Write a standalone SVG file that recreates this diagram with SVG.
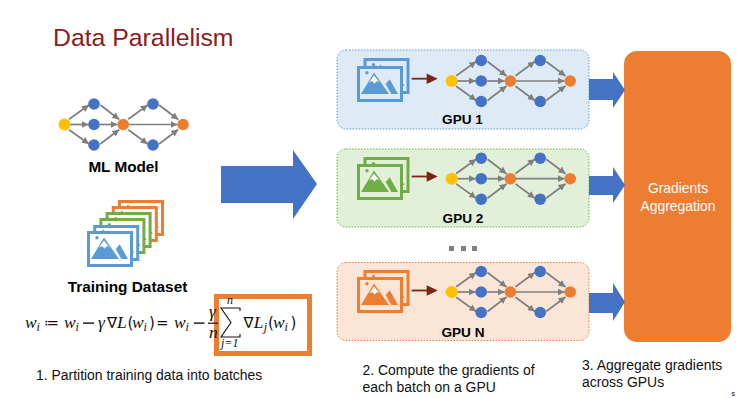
<svg xmlns="http://www.w3.org/2000/svg" width="737" height="398" viewBox="0 0 737 398">
<style>
  text { font-family: "Liberation Sans", Arial, sans-serif; fill: #000; }
  .b { font-weight: 700; text-anchor: middle; }
  .cap { font-size: 13.95px; fill: #111; }
  .white { font-size: 13.9px; text-anchor: middle; fill: #fff; }
  .m { font-family: "Liberation Serif", "DejaVu Serif", serif; font-style: italic; font-size: 17.5px; fill: #111; }
  .sub { font-size: 12px; }
  .mr { font-family: "DejaVu Sans", "Liberation Sans", sans-serif; font-style: normal; font-size: 15px; }
  .ms { font-family: "Liberation Serif", "DejaVu Serif", serif; font-style: italic; font-size: 12px; fill: #111; }
  .edge { stroke: #7f7f7f; stroke-width: 1.7; fill: none; marker-end: url(#tip); }
  .big { fill: #4472c4; }
  .blue { fill: #4472c4; }
  .org { fill: #ed7d31; }
  .yel { fill: #ffc000; }
  .panel { stroke-width: 1; stroke-dasharray: 1.5 1.5; }
</style>
<defs>
  <marker id="tip" markerUnits="userSpaceOnUse" markerWidth="7" markerHeight="7" refX="7" refY="3.5" orient="auto">
    <path d="M0 0L7 3.5L0 7z" fill="#7f7f7f"/>
  </marker>
  <!-- layered network, origin at the input node -->
  <g id="net">
    <g>
      <path class="edge" d="M4.5-5.2L24.5-19.5"/>
      <path class="edge" d="M5 0L24 0"/>
      <path class="edge" d="M4.5 5.2L24.5 19.5"/>
      <path class="edge" d="M35.8-19.5L54.8-5"/>
      <path class="edge" d="M35.5 0L53 0"/>
      <path class="edge" d="M35.8 19.5L54.8 5"/>
      <path class="edge" d="M63.8-5.2L83.2-19.5"/>
      <path class="edge" d="M63.8 5.2L83.2 19.5"/>
      <path class="edge" d="M94.5-19.5L113.8-5"/>
      <path class="edge" d="M94.5 19.5L113.8 5"/>
      <path class="edge" d="M63 0L113 0"/>
    </g>
    <circle class="yel" cx="0" cy="0" r="6"/>
    <circle class="blue" cx="29.5" cy="-20.5" r="5.8"/>
    <circle class="blue" cx="29.5" cy="0" r="5.8"/>
    <circle class="blue" cx="29.5" cy="20.5" r="5.8"/>
    <circle class="org" cx="58.7" cy="0" r="5.8"/>
    <circle class="blue" cx="88.5" cy="-20.5" r="5.8"/>
    <circle class="blue" cx="88.5" cy="20.5" r="5.8"/>
    <circle class="org" cx="118.5" cy="0" r="5.8"/>
  </g>
  <!-- picture frame: colour comes from currentColor, backing from the fill attribute -->
  <g id="pic">
    <rect x="1.5" y="1.5" width="43" height="33" stroke="currentColor" stroke-width="3"/>
    <circle cx="10" cy="6.8" r="1.7" fill="currentColor"/>
    <path d="M17 6.5L32 28H4z" fill="currentColor"/>
    <path d="M32.7 13.3L41 28H34.3L28.7 18z" fill="currentColor"/>
    <path d="M17 9.5L12 16.5L15 15L17.5 17.5L20 15L22.5 16.5z" fill="#fff"/>
  </g>
  <g id="arrowRed">
    <path d="M0 0H16" stroke="#7b2318" stroke-width="1.8" fill="none"/>
    <path d="M15 -5.3L26 0L15 5.3z" fill="#7b2318"/>
  </g>
</defs>

<rect width="737" height="398" fill="#fff"/>

<text id="title" x="53" y="46" font-size="24.8" style="fill:#8a1c1c">Data Parallelism</text>

<g id="ml-model">
  <use href="#net" x="64.5" y="124.5"/>
  <text class="b" x="123.5" y="172" font-size="15.3">ML Model</text>
</g>

<g id="training-dataset">
  <use href="#pic" x="118" y="200" fill="#fff" color="#ed7d31"/>
  <use href="#pic" x="111.8" y="206" fill="#fff" color="#ed7d31"/>
  <use href="#pic" x="105.6" y="212" fill="#fff" color="#70ad47"/>
  <use href="#pic" x="99.4" y="218" fill="#fff" color="#70ad47"/>
  <use href="#pic" x="93.2" y="225" fill="#fff" color="#5b9bd5"/>
  <use href="#pic" x="87" y="231" fill="#fff" color="#5b9bd5"/>
  <text class="b" x="127.5" y="292" font-size="15.4">Training Dataset</text>
</g>

<g id="formula">
  <rect x="216.5" y="296.5" width="93" height="57" fill="none" stroke="#ed7d31" stroke-width="5"/>
  <text class="m" y="328"><tspan x="25">w</tspan><tspan class="sub" x="36.5" dy="3">i</tspan><tspan class="mr" x="44" dy="-3">≔</tspan><tspan x="64">w</tspan><tspan class="sub" x="75.5" dy="3">i</tspan><tspan x="98" dy="-3">γ</tspan><tspan class="mr" x="107">∇</tspan><tspan x="117">L</tspan><tspan class="mr" x="127.5">(</tspan><tspan x="132">w</tspan><tspan class="sub" x="143.5" dy="3">i</tspan><tspan class="mr" x="149" dy="-3">)</tspan><tspan class="mr" x="156">=</tspan><tspan x="174">w</tspan><tspan class="sub" x="185.5" dy="3">i</tspan></text>
  <rect x="83" y="322.4" width="11" height="1.4" fill="#111"/>
  <rect x="194" y="322.4" width="10.5" height="1.4" fill="#111"/>
  <text class="m" x="209" y="317">γ</text>
  <rect x="208" y="322.6" width="10" height="1.2" fill="#111"/>
  <text class="m" x="209" y="338">n</text>
  <path d="M240 311V308H221L231 322.5L221 337H240V334" fill="none" stroke="#111" stroke-width="1.1"/>
  <text class="ms" x="227" y="304">n</text>
  <text class="ms" x="221" y="347">j=1</text>
  <text class="m" y="328"><tspan class="mr" x="243.5">∇</tspan><tspan x="253.8">L</tspan><tspan class="sub" x="263.8" dy="3">j</tspan><tspan class="mr" x="268" dy="-3">(</tspan><tspan x="273">w</tspan><tspan class="sub" x="284.5" dy="3">i</tspan><tspan class="mr" x="290.5" dy="-3">)</tspan></text>
</g>

<text id="step-1" class="cap" x="36" y="380">1. Partition training data into batches</text>

<g id="gpu-1">
  <rect class="panel" x="337" y="50" width="252" height="79" rx="9" fill="#deebf7" stroke="#5b9bd5"/>
  <use href="#pic" x="363.5" y="58" fill="#deebf7" color="#5b9bd5"/>
  <use href="#pic" x="357" y="66" fill="#deebf7" color="#5b9bd5"/>
  <use href="#arrowRed" x="411.7" y="78.7"/>
  <use href="#net" x="451.7" y="81"/>
  <text class="b" x="462.5" y="124" font-size="13.6">GPU 1</text>
</g>

<g id="gpu-2">
  <rect class="panel" x="337" y="149" width="252" height="78" rx="9" fill="#e2f0d9" stroke="#70ad47"/>
  <use href="#pic" x="363.5" y="157" fill="#e2f0d9" color="#70ad47"/>
  <use href="#pic" x="357" y="164" fill="#e2f0d9" color="#70ad47"/>
  <use href="#arrowRed" x="411.7" y="176.5"/>
  <use href="#net" x="451.7" y="178.7"/>
  <text class="b" x="463" y="222.7" font-size="13.6">GPU 2</text>
</g>

<g id="ellipsis" fill="#808080">
  <rect x="449" y="246" width="5" height="5"/>
  <rect x="461" y="246" width="5" height="5"/>
  <rect x="472" y="246" width="5" height="5"/>
</g>

<g id="gpu-n">
  <rect class="panel" x="337" y="262.5" width="252" height="78" rx="9" fill="#fbe5d6" stroke="#ed7d31"/>
  <use href="#pic" x="363.5" y="270" fill="#fbe5d6" color="#ed7d31"/>
  <use href="#pic" x="357" y="277" fill="#fbe5d6" color="#ed7d31"/>
  <use href="#arrowRed" x="411.7" y="290.5"/>
  <use href="#net" x="451.7" y="292"/>
  <text class="b" x="463" y="336.7" font-size="13.6">GPU N</text>
</g>

<g id="aggregation">
  <rect x="624" y="51" width="107" height="291" rx="13" fill="#ed7d31"/>
  <text class="white" x="678" y="193">Gradients</text>
  <text class="white" x="678" y="210.7">Aggregation</text>
</g>

<g id="connectors">
  <path class="big" d="M221 166H293V150L317 184L293 219V203H221z"/>
  <path class="big" d="M589 79H613V72L625 90L613 108V100H589z"/>
  <path class="big" d="M589 176H613V167L625 185L613 203V195H589z"/>
  <path class="big" d="M589 293H613V283L625 302L613 321V313H589z"/>
</g>

<text id="step-2a" class="cap" x="362.5" y="375">2. Compute the gradients of</text>
<text id="step-2b" class="cap" x="362.5" y="392">each batch on a GPU</text>
<text id="step-3a" class="cap" x="582" y="370">3. Aggregate gradients</text>
<text id="step-3b" class="cap" x="582" y="387">across GPUs</text>
<text id="page-mark" x="731.5" y="396" font-size="7">s</text>
</svg>
